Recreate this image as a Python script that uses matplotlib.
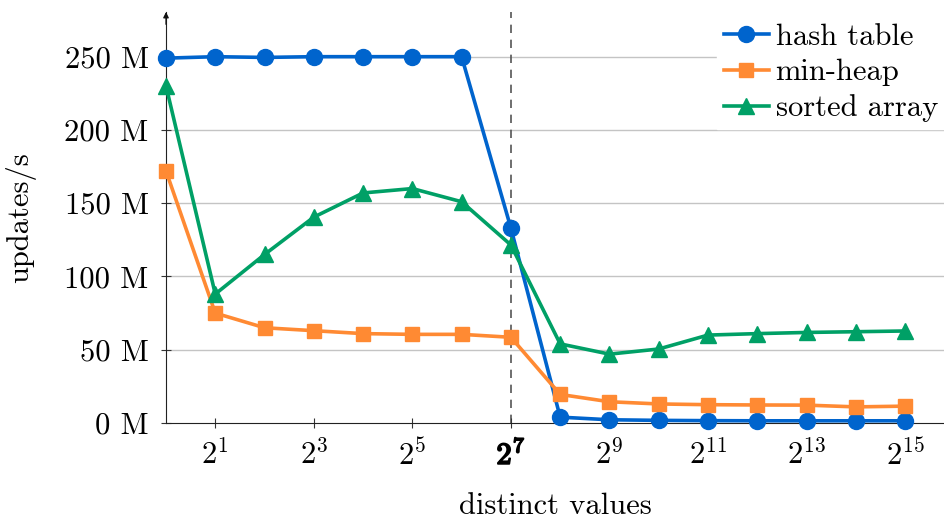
import matplotlib
matplotlib.use("Agg")
import matplotlib.pyplot as plt
import matplotlib.patheffects as pe

plt.rcParams["font.family"] = ["cmr10", "DejaVu Serif"]
plt.rcParams["mathtext.fontset"] = "cm"
plt.rcParams["axes.formatter.use_mathtext"] = True

exponents = list(range(16))
distinct_values = [2 ** e for e in exponents]

hash_table = [249, 250, 249.5, 250, 250, 250, 250, 133, 4, 2.2, 1.8, 1.6, 1.5, 1.5, 1.5, 1.5]
min_heap = [172, 75, 65, 63, 61, 60.5, 60.5, 58.5, 19.5, 14.5, 13, 12.5, 12.3, 12.2, 11, 11.5]
sorted_array = [230, 88, 115, 140.5, 157, 160, 151, 121.5, 54, 47, 50.5, 60, 61, 61.8, 62.3, 62.8]

y_ticks = [0, 50, 100, 150, 200, 250]
y_tick_labels = [f"{v} M" for v in y_ticks]
x_tick_exps = [1, 3, 5, 7, 9, 11, 13, 15]
highlight_exp = 7
x_tick_labels = [rf"$2^{{{e}}}$" for e in x_tick_exps]

series = [
    ("hash table", hash_table, "#0064cd", "o", 11.5),
    ("min-heap", min_heap, "#ff8a33", "s", 10.5),
    ("sorted array", sorted_array, "#00a066", "^", 11),
]

FS = 22

fig = plt.figure(figsize=(9.44, 5.21), dpi=100)
ax = fig.add_axes([166 / 944, 98 / 521, 1 - 166 / 944, (423 - 12) / 521])

ax.set_xscale("log", base=2)
ax.set_xlim(2 ** 0, 2 ** 15.79)
ax.set_ylim(0, 280.5)

for y in y_ticks[1:]:
    ax.axhline(y, color="#c4c4c4", lw=1.0, zorder=0)
ax.axvline(2 ** highlight_exp, color="#555555", lw=1.2, ls=(0, (5, 4)), zorder=1)

for name, vals, color, marker, ms in series:
    ax.plot(distinct_values, vals, color=color, lw=2.6, marker=marker,
            markersize=ms, label=name, zorder=3, clip_on=False)

ax.set_yticks(y_ticks)
ax.set_yticklabels(y_tick_labels, fontsize=FS)
ax.set_xticks([2 ** e for e in x_tick_exps])
ax.set_xticklabels(x_tick_labels, fontsize=FS)
ax.xaxis.set_minor_locator(matplotlib.ticker.NullLocator())
ax.tick_params(axis="both", direction="inout", length=7, width=0.8, color="#333333")
ax.tick_params(axis="x", pad=8)
ax.tick_params(axis="y", pad=9)

# emphasise the threshold tick label with a heavier stroke
for lbl, e in zip(ax.get_xticklabels(), x_tick_exps):
    if e == highlight_exp:
        lbl.set_path_effects([pe.withStroke(linewidth=1.3, foreground="black")])

ax.spines["top"].set_visible(False)
ax.spines["right"].set_visible(False)
ax.spines["left"].set_color("#222222")
ax.spines["bottom"].set_color("#222222")
ax.annotate("", xy=(0, 1.0), xytext=(0, 0.97), xycoords="axes fraction",
            arrowprops=dict(arrowstyle="-|>", lw=0.9, color="#111111",
                            mutation_scale=8, shrinkA=0, shrinkB=0))

ax.set_xlabel("distinct values", fontsize=FS, labelpad=15)
ax.set_ylabel("updates/s", fontsize=FS, labelpad=20)

leg = ax.legend(loc="upper right", bbox_to_anchor=(1.0, 1.0 - 5 / 411), fontsize=FS,
                frameon=True, framealpha=1, edgecolor="white", fancybox=False,
                handlelength=1.5, handletextpad=0.2, labelspacing=0.27,
                borderaxespad=0.0, borderpad=0.2)
leg.set_zorder(5)

fig.savefig("out.png", dpi=100)
